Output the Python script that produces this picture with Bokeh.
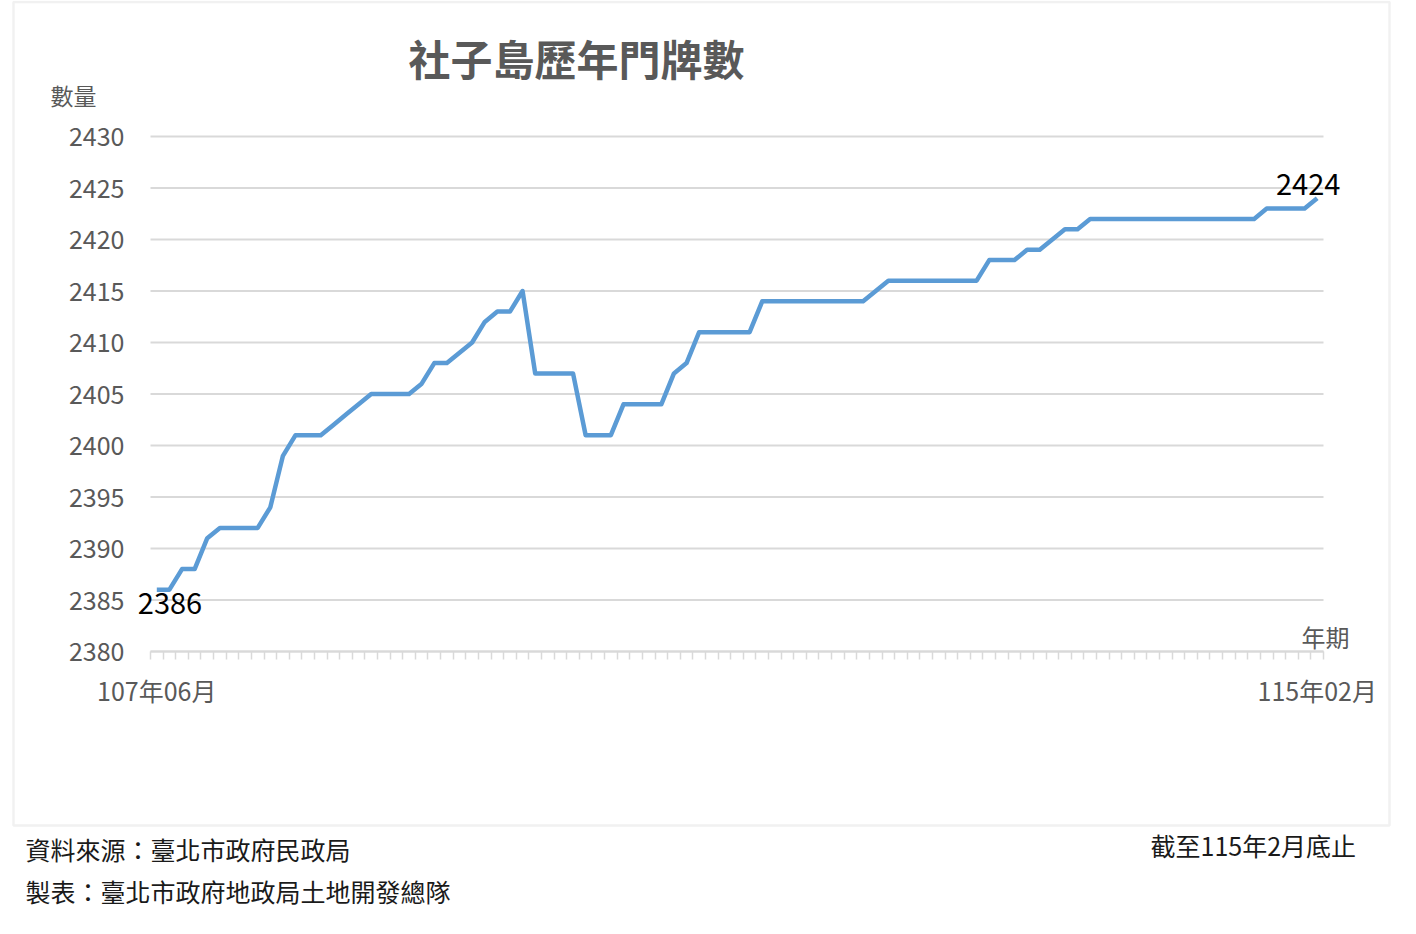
from bokeh.plotting import figure
from bokeh.models import Range1d, FixedTicker, Label, BoxAnnotation, LinearAxis
from bokeh.embed import file_html
from bokeh.resources import INLINE

title_text = "社子島歷年門牌數"
y_label = "數量"
x_label = "年期"
x_tick_labels = ["107年06月", "115年02月"]
y_ticks = [2380, 2385, 2390, 2395, 2400, 2405, 2410, 2415, 2420, 2425, 2430]
values = [
    2386, 2386, 2388, 2388, 2391, 2392, 2392, 2392, 2392, 2394,
    2399, 2401, 2401, 2401, 2402, 2403, 2404, 2405, 2405, 2405,
    2405, 2406, 2408, 2408, 2409, 2410, 2412, 2413, 2413, 2415,
    2407, 2407, 2407, 2407, 2401, 2401, 2401, 2404, 2404, 2404,
    2404, 2407, 2408, 2411, 2411, 2411, 2411, 2411, 2414, 2414,
    2414, 2414, 2414, 2414, 2414, 2414, 2414, 2415, 2416, 2416,
    2416, 2416, 2416, 2416, 2416, 2416, 2418, 2418, 2418, 2419,
    2419, 2420, 2421, 2421, 2422, 2422, 2422, 2422, 2422, 2422,
    2422, 2422, 2422, 2422, 2422, 2422, 2422, 2422, 2423, 2423,
    2423, 2423, 2424,
]
source_note = "資料來源：臺北市政府民政局"
maker_note = "製表：臺北市政府地政局土地開發總隊"
date_note = "截至115年2月底止"

FONT = "Noto Sans CJK TC"
GRAY = "#595959"
GRID = "#d9d9d9"
BORDER = "#d0d0d0"
LINE = "#5B9BD5"
DARK = "#1a1a1a"

W, H = 1400, 918
n = len(values)
y0, y1 = y_ticks[0], y_ticks[-1]

# plot area placement on the canvas (pixels)
PX_L, PX_R, PX_T, PX_B = 150, 1323, 136, 651
xs = (PX_R - PX_L) / n              # pixels per category
ys = (PX_B - PX_T) / (y1 - y0)      # pixels per unit

x_start = -0.5 - PX_L / xs
x_end = -0.5 + (W - PX_L) / xs
y_start = y0 - (H - PX_B) / ys
y_end = y1 + PX_T / ys


def dx(px):
    return -0.5 + (px - PX_L) / xs


def dy(py):
    return y0 + (PX_B - py) / ys


p = figure(width=W, height=H, output_backend="svg", toolbar_location=None,
           x_range=Range1d(x_start, x_end), y_range=Range1d(y_start, y_end),
           x_axis_type=None, y_axis_type=None,
           min_border=0, min_border_left=0, min_border_right=0,
           min_border_top=0, min_border_bottom=0)
p.title.visible = False
p.outline_line_color = None
p.background_fill_color = "white"
p.border_fill_color = "white"

# border of chart area
p.add_layout(BoxAnnotation(left=dx(13), right=dx(1389), top=dy(1.5), bottom=dy(825),
                           fill_alpha=0, line_color=BORDER, line_width=2.5))

# horizontal grid lines across the plot area
p.segment(x0=[-0.5] * len(y_ticks), x1=[n - 0.5] * len(y_ticks), y0=y_ticks, y1=y_ticks,
          line_color=GRID, line_width=2)

# axes
yaxis = LinearAxis(ticker=FixedTicker(ticks=y_ticks), fixed_location=-0.5)
yaxis.axis_line_color = None
yaxis.major_tick_line_color = None
yaxis.minor_tick_line_color = None
yaxis.major_tick_out = 0
yaxis.major_tick_in = 0
yaxis.minor_tick_out = 0
yaxis.major_label_standoff = 26
yaxis.major_label_text_font = FONT
yaxis.major_label_text_font_size = "25px"
yaxis.major_label_text_color = GRAY
p.add_layout(yaxis, "left")

xaxis = LinearAxis(ticker=FixedTicker(ticks=[0, n - 1],
                                      minor_ticks=[i - 0.5 for i in range(n + 1)]),
                   fixed_location=y0, bounds=(-0.5, n - 0.5))
xaxis.major_label_overrides = {0: x_tick_labels[0], n - 1: x_tick_labels[1]}
xaxis.major_tick_out = 0
xaxis.major_tick_in = 0
xaxis.major_tick_line_color = None
xaxis.minor_tick_out = 8
xaxis.minor_tick_in = 0
xaxis.minor_tick_line_color = GRID
xaxis.minor_tick_line_width = 1.5
xaxis.axis_line_color = GRID
xaxis.axis_line_width = 2
xaxis.major_label_standoff = 12
xaxis.major_label_text_font = FONT
xaxis.major_label_text_font_size = "25px"
xaxis.major_label_text_color = GRAY
p.add_layout(xaxis, "below")

p.line(x=list(range(n)), y=values, line_color=LINE, line_width=4.5, line_join="round")

# data labels
p.add_layout(Label(x=0, y=values[0], text=str(values[0]), x_offset=-19, y_offset=-14,
                   text_align="left", text_baseline="middle", text_font=FONT,
                   text_font_size="29px", text_color="black"))
p.add_layout(Label(x=n - 1, y=values[-1], text=str(values[-1]), x_offset=-9, y_offset=14,
                   text_align="center", text_baseline="middle", text_font=FONT,
                   text_font_size="29px", text_color="black"))


def lab(px, py, text, size, color, align="left", style="normal"):
    p.add_layout(Label(x=dx(px), y=dy(py), text=text, text_align=align,
                       text_baseline="middle", text_font=FONT, text_font_size=size,
                       text_color=color, text_font_style=style))


lab(576, 57, title_text, "42px", GRAY, "center", "bold")
lab(50, 94, y_label, "23px", GRAY)
lab(1301, 636, x_label, "24px", GRAY)
lab(25, 848, source_note, "25px", DARK)
lab(25, 890, maker_note, "25px", DARK)
lab(1150, 844, date_note, "25px", DARK)

open("out.html", "w").write(file_html(p, INLINE))
